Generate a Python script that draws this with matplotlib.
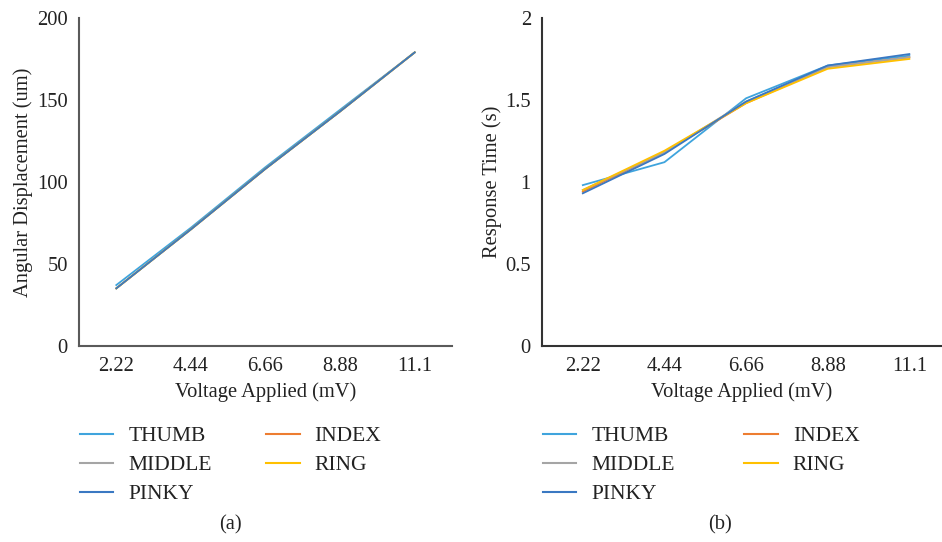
import matplotlib
matplotlib.use("Agg")
import matplotlib.pyplot as plt
from matplotlib.lines import Line2D

plt.rcParams['font.family'] = ['Liberation Serif', 'DejaVu Serif']

voltages = ["2.22", "4.44", "6.66", "8.88", "11.1"]
series_names = ["THUMB", "INDEX", "MIDDLE", "RING", "PINKY"]

# (a) Angular displacement (um)
thumb_disp = [37, 72, 109, 144, 179]
index_disp = [35, 71, 108, 143, 179]
middle_disp = [35, 71, 108, 143, 179]
ring_disp = [35, 71, 108, 143, 179]
pinky_disp = [35, 71, 108, 143, 179]

# (b) Response time (s)
thumb_time = [0.98, 1.12, 1.51, 1.71, 1.77]
index_time = [0.94, 1.18, 1.48, 1.70, 1.76]
middle_time = [0.95, 1.18, 1.49, 1.70, 1.76]
ring_time = [0.95, 1.19, 1.48, 1.69, 1.75]
pinky_time = [0.93, 1.17, 1.49, 1.71, 1.78]

colors = {"THUMB": "#3FA4DD", "INDEX": "#ED7D31", "MIDDLE": "#A5A5A5",
          "RING": "#FFC000", "PINKY": "#3A78C2"}

disp = dict(zip(series_names, [thumb_disp, index_disp, middle_disp, ring_disp, pinky_disp]))
rtime = dict(zip(series_names, [thumb_time, index_time, middle_time, ring_time, pinky_time]))

W, H = 942, 542
fig = plt.figure(figsize=(W / 100, H / 100), dpi=100)

def px_axes(x0, x1, ytop, ybot):
    return fig.add_axes([x0 / W, 1 - ybot / H, (x1 - x0) / W, (ybot - ytop) / H])

ax1 = px_axes(79, 452, 18, 345.7)
ax2 = px_axes(542, 942, 18, 345.7)

FS = 14.8
LFS = 15.5
xpos = list(range(len(voltages)))

def style(ax, data, ylim, yticks, yticklabels, ylabel, spine_color, xmax, ylabelpad, colspace):
    for name in series_names:
        ax.plot(xpos, data[name], color=colors[name], lw=1.3, solid_joinstyle='miter')
    ax.set_xlim(-0.5, xmax)
    ax.set_ylim(*ylim)
    ax.set_xticks(xpos)
    ax.set_xticklabels(voltages, fontsize=FS, color='#222222')
    ax.set_yticks(yticks)
    ax.set_yticklabels(yticklabels, fontsize=FS, color='#222222')
    ax.tick_params(length=0, pad=8)
    for s in ['top', 'right']:
        ax.spines[s].set_visible(False)
    for s in ['left', 'bottom']:
        ax.spines[s].set_color(spine_color)
        ax.spines[s].set_linewidth(1.5)
    ax.set_xlabel("Voltage Applied (mV)", fontsize=FS, color='#222222', labelpad=5)
    ax.set_ylabel(ylabel, fontsize=FS, color='#222222', labelpad=ylabelpad)
    handles = [Line2D([], [], color=colors[n], lw=1.5) for n in series_names]
    order = [0, 2, 4, 1, 3]
    leg = ax.legend([handles[i] for i in order], [series_names[i] for i in order],
                    ncol=2, frameon=False, fontsize=LFS, loc='upper left',
                    handlelength=1.55, handletextpad=0.7, columnspacing=colspace,
                    labelspacing=0.42, borderpad=0, borderaxespad=0)
    for t in leg.get_texts():
        t.set_color('#222222')
    return leg

leg1 = style(ax1, disp, (0, 200), [0, 50, 100, 150, 200], ["0", "50", "100", "150", "200"],
             "Angular Displacement (um)", '#5a5a5a', 4.5, 3, 2.52)
leg1.set_bbox_to_anchor((80 / W, 1 - 426 / H), transform=fig.transFigure)
leg2 = style(ax2, rtime, (0, 2), [0, 0.5, 1, 1.5, 2], ["0", "0.5", "1", "1.5", "2"],
             "Response Time (s)", '#333333', 4.4, 2, 3.22)
leg2.set_bbox_to_anchor((543 / W, 1 - 426 / H), transform=fig.transFigure)

fig.text(230 / W, 1 - 525 / H, "(a)", fontsize=FS, ha='center', va='center', color='#222222')
fig.text(720 / W, 1 - 525 / H, "(b)", fontsize=FS, ha='center', va='center', color='#222222')

fig.savefig("out.png", dpi=100)
